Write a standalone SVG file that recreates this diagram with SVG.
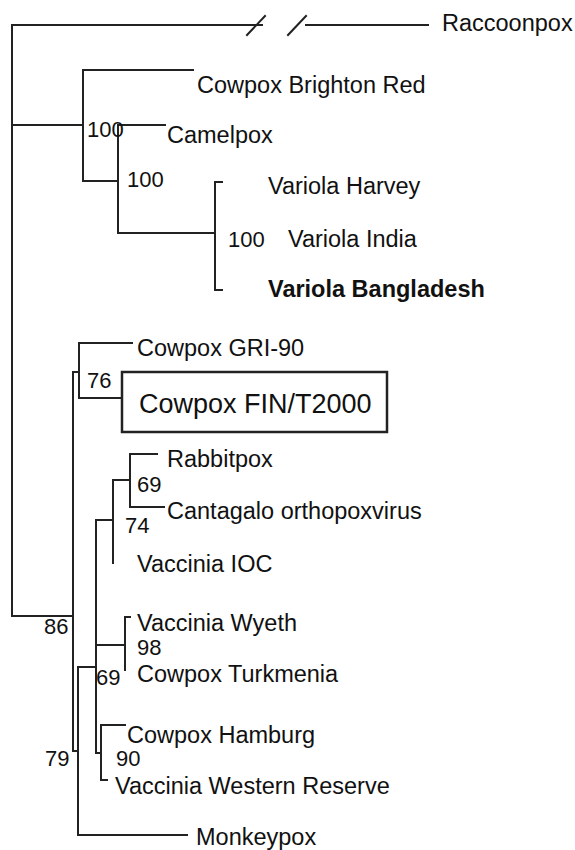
<svg xmlns="http://www.w3.org/2000/svg" width="575" height="850" viewBox="0 0 575 850">
<style>
.e{stroke:#222;stroke-width:2;fill:none;stroke-linecap:square}
.t{font-family:"Liberation Sans",Arial,sans-serif;font-size:23.5px;fill:#111}
.b{font-weight:bold}
.n{font-family:"Liberation Sans",Arial,sans-serif;font-size:22px;fill:#111}
.box{fill:none;stroke:#222;stroke-width:2.5}
</style>
<rect width="575" height="850" fill="#fff"/>
<g id="connectors" class="e">
<path d="M12,25V616M12,25H262M306,25H428M247,35L265,16M288,35L306,16"/>
<path d="M12,125H83M83,70V181M83,70H193M83,181H118M118,125V233M118,125H165M118,233H215M215,182V290M215,182H222M215,290H222"/>
<path d="M12,616H73M73,372V751M73,372H79M79,343V398M79,343H132M79,398H122"/>
<path d="M73,751H78M78,667V835M78,835H187M78,667H96M96,520V753"/>
<path d="M96,520H113M113,480V563M113,480H130M130,454V507M130,454H157M130,507H164"/>
<path d="M96,645H125M125,617V670M125,617H130"/>
<path d="M96,753H101M101,725V780M101,725H125M101,780H107"/>
</g>
<g id="raccoonpox"><text class="t" x="442" y="31">Raccoonpox</text></g>
<g id="cowpox-brighton-red"><text class="t" x="197" y="93">Cowpox Brighton Red</text></g>
<g id="camelpox"><text class="t" x="167" y="143">Camelpox</text></g>
<g id="variola-harvey"><text class="t" x="268" y="194">Variola Harvey</text></g>
<g id="variola-india"><text class="t" x="288" y="247">Variola India</text></g>
<g id="variola-bangladesh"><text class="t b" x="268" y="297">Variola Bangladesh</text></g>
<g id="cowpox-gri-90"><text class="t" x="137" y="356">Cowpox GRI-90</text></g>
<g id="cowpox-fin-t2000"><rect class="box" x="122" y="372" width="265" height="60"/><text class="t" style="font-size:27px" x="139" y="413">Cowpox FIN/T2000</text></g>
<g id="rabbitpox"><text class="t" x="167" y="467">Rabbitpox</text></g>
<g id="cantagalo"><text class="t" x="167" y="519">Cantagalo orthopoxvirus</text></g>
<g id="vaccinia-ioc"><text class="t" x="137" y="572">Vaccinia IOC</text></g>
<g id="vaccinia-wyeth"><text class="t" x="137" y="631">Vaccinia Wyeth</text></g>
<g id="cowpox-turkmenia"><text class="t" x="137" y="682">Cowpox Turkmenia</text></g>
<g id="cowpox-hamburg"><text class="t" x="127" y="743">Cowpox Hamburg</text></g>
<g id="vaccinia-western-reserve"><text class="t" x="115" y="794">Vaccinia Western Reserve</text></g>
<g id="monkeypox"><text class="t" x="196" y="845">Monkeypox</text></g>
<g id="bootstrap">
<text class="n" x="87" y="137">100</text>
<text class="n" x="127" y="187">100</text>
<text class="n" x="228" y="247">100</text>
<text class="n" x="87" y="388">76</text>
<text class="n" x="137" y="492">69</text>
<text class="n" x="125" y="533">74</text>
<text class="n" x="44" y="634">86</text>
<text class="n" x="137" y="655">98</text>
<text class="n" x="96" y="685">69</text>
<text class="n" x="116" y="766">90</text>
<text class="n" x="45" y="766">79</text>
</g>
</svg>
